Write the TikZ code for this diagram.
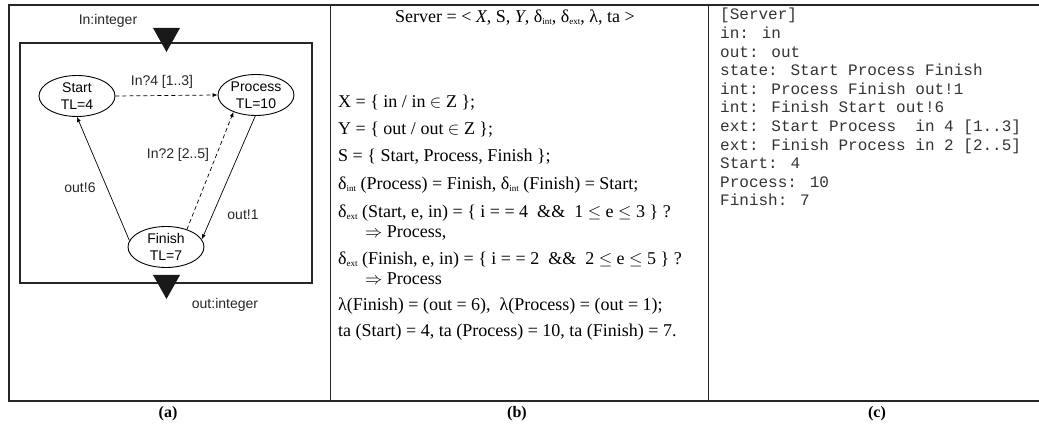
\documentclass[tikz,border=0pt]{standalone}
\usepackage{fontspec}
\setmainfont{Liberation Serif}
\newfontfamily\arialf{Liberation Sans}
\newfontfamily\courf{Liberation Mono}
\usetikzlibrary{arrows.meta,shapes.geometric}
\newcommand\mysub[1]{\raisebox{-2pt}{\fontsize{9}{9}\selectfont #1}}
\begin{document}
\begin{tikzpicture}[x=1pt,y=-1pt,
  frame/.style={line width=1.4pt, draw=black!85},
  boxline/.style={line width=1.2pt, draw=black!85},
  st/.style={draw, ellipse, line width=0.9pt, minimum width=76pt, minimum height=41pt,
    inner sep=0pt, align=center, font=\arialf\fontsize{14}{17}\selectfont},
  lbl/.style={font=\arialf\fontsize{14}{17}\selectfont, inner sep=0pt, text=black!85},
  arr/.style={-{Latex[length=5pt,width=4pt]}, line width=0.7pt},
  dsh/.style={arr, dash pattern=on 4pt off 3pt},
  bt/.style={anchor=base west, inner sep=0pt, font=\fontsize{18}{22}\selectfont},
  ct/.style={anchor=base west, inner sep=0pt, text=black!80, font=\courf\fontsize{16}{18}\selectfont},
  capt/.style={inner sep=0pt, font=\bfseries\fontsize{16}{18}\selectfont}
]
\useasboundingbox (0,0) rectangle (1039,427);
% table frame
\draw[frame] (1039,5) -- (9,5) -- (9,401) -- (1039,401);
\draw[frame] (330.5,5) -- (330.5,401);
\draw[frame] (708.5,5) -- (708.5,401);
% captions
\node[capt] (capa) at (168,414) {(a)};
\node[capt] (capb) at (517,414) {(b)};
\node[capt] (capc) at (877,414) {(c)};
% ---------- panel (a)
\draw[boxline] (20,43) rectangle (312,283);
\fill[black!90] (153,28) -- (180,28) -- (166.5,52) -- cycle;
\fill[black!90] (153,275) -- (180,275) -- (166.5,299) -- cycle;
\node[lbl] (inl) at (108,21) {In:integer};
\node[lbl] (outl) at (225,305) {out:integer};
\node[st] (S) at (77,96) {Start\\TL=4};
\node[st] (P) at (256,95) {Process\\TL=10};
\node[st] (F) at (166,247) {Finish\\TL=7};
\draw[dsh] (S.east) -- (P.west);
\draw[dsh] (F.40) -- (P.217);
\draw[arr] (F.170) -- (S.south);
\draw[arr] (P.268) -- (F.12);
\node[lbl] (l1) at (162,82) {In?4 [1..3]};
\node[lbl] (l2) at (178,155) {In?2 [2..5]};
\node[lbl] (l3) at (80,188) {out!6};
\node[lbl] (l4) at (243,215) {out!1};
% ---------- panel (b)
\node[bt, anchor=base] (b0) at (515,23) {Server = < \textit{X}, S, \textit{Y}, δ\mysub{int}, δ\mysub{ext}, λ, ta >};
\node[bt] (b1) at (338,108) {X = \{ in / in $\in$ Z \};};
\node[bt] (b2) at (338,135) {Y = \{ out / out $\in$ Z \};};
\node[bt] (b3) at (338,162) {S = \{ Start, Process, Finish \};};
\node[bt] (b4) at (338,190) {δ\mysub{int} (Process) = Finish, δ\mysub{int} (Finish) = Start;};
\node[bt] (b5) at (338,218) {δ\mysub{ext} (Start, e, in) = \{ i = = 4\ \ \&\&\ \ 1 $\leq$ e $\leq$ 3 \} ?};
\node[bt] (b6) at (365,238) {$\Rightarrow$ Process,};
\node[bt] (b7) at (338,265) {δ\mysub{ext} (Finish, e, in) = \{ i = = 2\ \ \&\&\ \ 2 $\leq$ e $\leq$ 5 \} ?};
\node[bt] (b8) at (365,285) {$\Rightarrow$ Process};
\node[bt] (b9) at (338,311) {λ(Finish) = (out = 6),\ \ λ(Process) = (out = 1);};
\node[bt] (b10) at (338,337) {ta (Start) = 4, ta (Process) = 10, ta (Finish) = 7.};
% ---------- panel (c)
\node[ct] (c1) at (720,20) {[Server]};
\node[ct] (c2) at (720,38.6) {in: in};
\node[ct] (c3) at (720,57.2) {out: out};
\node[ct] (c4) at (720,75.8) {state: Start Process Finish};
\node[ct] (c5) at (720,94.4) {int: Process Finish out!1};
\node[ct] (c6) at (720,113) {int: Finish Start out!6};
\node[ct] (c7) at (720,131.6) {ext: Start Process\ \ in 4 [1..3]};
\node[ct] (c8) at (720,150.2) {ext: Finish Process in 2 [2..5]};
\node[ct] (c9) at (720,168.8) {Start: 4};
\node[ct] (c10) at (720,187.4) {Process: 10};
\node[ct] (c11) at (720,206) {Finish: 7};
\end{tikzpicture}
\end{document}
